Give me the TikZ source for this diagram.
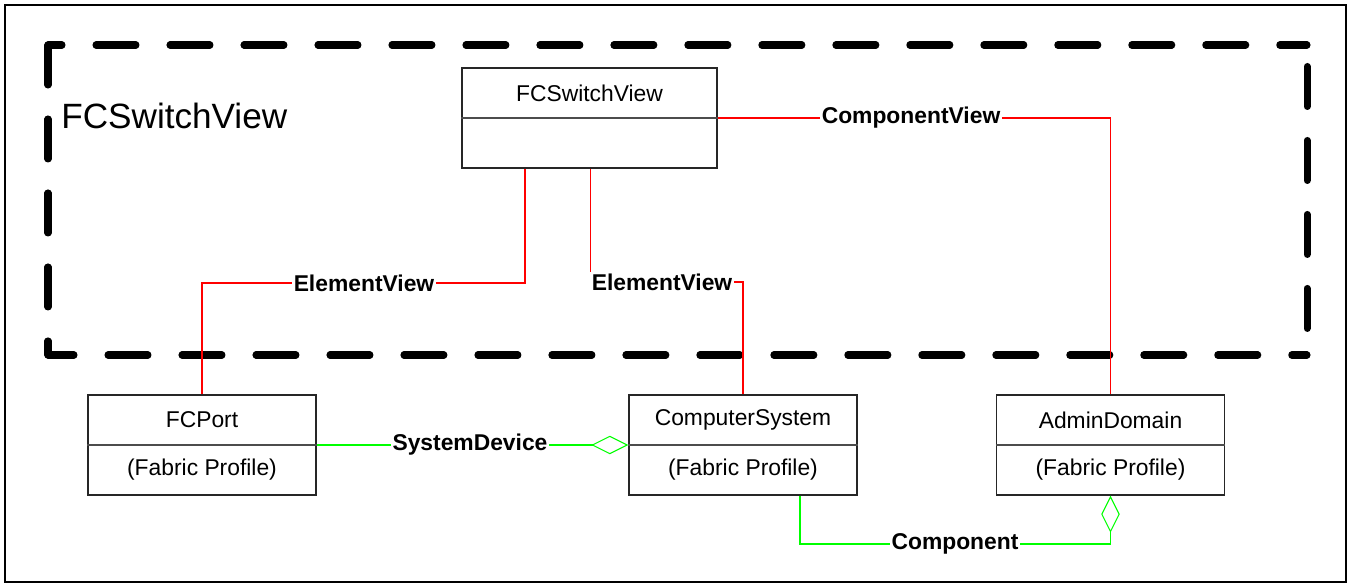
\documentclass[tikz,border=0pt]{standalone}
\usepackage{fontspec}
\setmainfont{Liberation Sans}
\usepackage{tikz}
\usetikzlibrary{arrows.meta,positioning}
\definecolor{linkred}{RGB}{255,0,0}
\definecolor{linkgreen}{RGB}{0,255,0}

\begin{document}
\begin{tikzpicture}[
x=0.02cm, y=-0.02cm,
font=\fontsize{13}{15}\selectfont,
classbox/.style={draw=black!85, line width=0.8pt, minimum width=4.56cm, minimum height=2cm, inner sep=0pt},
classtext/.style={inner sep=0pt},
divider/.style={draw=black!70, line width=1pt},
viewframe/.style={line width=4pt, dash pattern=on 0.8cm off 0.68cm, line cap=round},
viewline/.style={draw=linkred, line width=0.6pt},
assocline/.style={draw=linkgreen, line width=0.6pt},
aggr/.style={-{Diamond[open,length=0.74cm,width=0.37cm]}},
lbl/.style={fill=white, inner sep=1pt, font=\fontsize{13}{15}\selectfont\bfseries},
scale=1]
    \useasboundingbox (0,0) rectangle (1351,587);
    % Outer frame
    \draw[line width=1.2pt] (5,5) rectangle (1346,582);

    % Package frame, one side at a time
    \draw[viewframe] (48,45) -- (48,355);
    \draw[viewframe, dash phase=0.28cm] (48,355) -- (1307,355);
    \draw[viewframe, dash phase=0.52cm] (48,45) -- (1307,45);
    \draw[viewframe, dash phase=1.05cm] (1307,45) -- (1307,355);
    \node[anchor=base west, inner sep=0pt, font=\fontsize{20}{24}\selectfont] (pkgname) at (61,129) {FCSwitchView};

    % Classes
    \node[classbox, minimum width=5.1cm] (switch) at (589.5,118) {};
    \draw[divider] (switch.west) -- (switch.east);
    \node[classtext] (switchname) at (589.5,93) {FCSwitchView};

    \node[classbox] (fcport) at (202,445) {};
    \draw[divider] (fcport.west) -- (fcport.east);
    \node[classtext] (fcportname) at (202,420) {FCPort};
    \node[classtext] (fcportprof) at (202,470) {(Fabric Profile)};

    \node[classbox] (comp) at (743,445) {};
    \draw[divider] (comp.west) -- (comp.east);
    \node[classtext] (compname) at (743,420) {ComputerSystem};
    \node[classtext] (compprof) at (743,470) {(Fabric Profile)};

    \node[classbox] (admin) at (1110.5,445) {};
    \draw[divider] (admin.west) -- (admin.east);
    \node[classtext] (adminname) at (1110.5,420) {AdminDomain};
    \node[classtext] (adminprof) at (1110.5,470) {(Fabric Profile)};

    % Views
    \coordinate (ev1) at (364,283);
    \coordinate (ev2) at (662,282);
    \coordinate (cv) at (911,118);
    \draw[viewline] ([xshift=-1.29cm]switch.south) |- (ev1) -| (fcport.north);
    \draw[viewline] ([xshift=0.02cm]switch.south) |- (ev2) -| (comp.north);
    \draw[viewline] (switch.east) -- (cv) -| (admin.north);
    \node[lbl] (ev1lbl) at (ev1) {ElementView};
    \node[lbl] (ev2lbl) at (ev2) {ElementView};
    \node[lbl] (cvlbl) at (cv) {ComponentView};

    % Aggregations
    \coordinate (sd) at (470,445);
    \coordinate (cp) at (955,544);
    \draw[assocline, aggr] (fcport.east) -- (sd) -- (comp.west);
    \draw[assocline, aggr] ([xshift=1.14cm]comp.south) |- (cp) -| (admin.south);
    \node[lbl] (sdlbl) at (sd) {SystemDevice};
    \node[lbl] (cplbl) at (cp) {Component};
\end{tikzpicture}
\end{document}
